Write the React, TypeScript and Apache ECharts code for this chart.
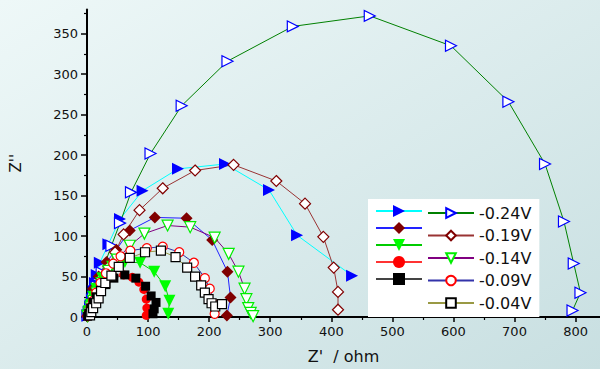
import React, { useEffect, useRef } from "react";
import * as echarts from "echarts";

// Nyquist data: [Z' (ohm), Z'' (ohm)]
const s024Filled: number[][] = [[1,2],[3,6],[5,13],[8,22],[11,32],[13,42],[16,52],[21,67],[35,90],[54,121],[91,156],[149,183],[226,189],[298,157],[344,101],[434,51]];
const s024Open: number[][] = [[1,2],[3,6],[6,14],[10,24],[16,38],[24,55],[40,88],[54,116],[72,154],[104,202],[155,261],[230,316],[337,359],[463,372],[596,335],[690,266],[750,189],[781,118],[797,66],[808,30],[795,8]];
const s019Filled: number[][] = [[1,2],[3,8],[6,18],[10,35],[19,50],[32,68],[48,83],[70,107],[111,123],[163,122],[205,95],[230,56],[235,24],[229,2]];
const s019Open: number[][] = [[1,1],[3,5],[6,12],[10,22],[16,35],[25,50],[35,62],[46,80],[60,102],[86,132],[124,159],[177,181],[240,188],[310,168],[357,140],[387,99],[404,61],[411,31],[411,9]];
const s014Filled: number[][] = [[1,2],[3,7],[6,15],[10,25],[15,35],[25,48],[41,62],[62,68],[87,67],[110,56],[128,38],[135,20],[133,4]];
const s014Open: number[][] = [[1,1],[3,5],[6,12],[10,20],[16,30],[24,42],[35,57],[49,71],[70,88],[94,103],[132,113],[169,111],[209,98],[232,78],[248,56],[258,35],[261,22],[264,11],[268,5],[272,1]];
const s009Filled: number[][] = [[1,1],[3,5],[6,12],[10,20],[15,28],[22,37],[31,44],[42,51],[60,52],[74,49],[85,43],[93,34],[97,22],[98,11],[97,2]];
const s009Open: number[][] = [[1,1],[3,5],[6,12],[10,20],[15,30],[22,42],[31,54],[43,66],[55,75],[71,82],[98,85],[124,87],[151,80],[175,67],[193,48],[201,35],[209,16],[209,4]];
const s004Filled: number[][] = [[1,1],[3,5],[6,11],[10,18],[15,25],[22,33],[31,40],[44,48],[62,52],[80,48],[96,38],[105,26],[113,18],[110,10],[108,4]];
const s004Open: number[][] = [[5,2],[7,6],[10,11],[15,17],[19,23],[23,32],[30,42],[40,51],[52,62],[70,73],[95,80],[121,82],[145,74],[164,61],[177,50],[187,39],[193,30],[199,22],[204,17],[210,13],[221,16]];

const labels = ["-0.24V", "-0.19V", "-0.14V", "-0.09V", "-0.04V"];
const xTicks = [0, 100, 200, 300, 400, 500, 600, 700, 800];
const yTicks = [0, 50, 100, 150, 200, 250, 300, 350];

const FONT = "DejaVu Sans";

export default function App() {
  const ref = useRef<HTMLDivElement>(null);
  useEffect(() => {
    if (!ref.current) return;
    const chart = echarts.init(ref.current, null, { renderer: "svg" });

    const mk = (
      name: string,
      data: number[][],
      lineColor: string,
      symbol: string,
      size: number,
      rotate: number,
      fill: string,
      border: string | null
    ) => ({
      type: "line",
      name,
      data,
      symbol,
      symbolSize: size,
      symbolRotate: rotate,
      showAllSymbol: true,
      lineStyle: { color: lineColor, width: 1 },
      itemStyle: border
        ? { color: fill, borderColor: border, borderWidth: 1.2 }
        : { color: fill, borderWidth: 0 },
      emphasis: { disabled: true },
    });

    const filledNames = labels.map((l) => l + " filled");
    const series = [
      mk(filledNames[0], s024Filled, "#00ffff", "triangle", 12, -90, "#0000ff", null),
      mk(labels[0], s024Open, "#008000", "triangle", 11, -90, "#ffffff", "#0000ff"),
      mk(filledNames[1], s019Filled, "#2222ff", "diamond", 12, 0, "#800000", null),
      mk(labels[1], s019Open, "#993333", "diamond", 11, 0, "#ffffff", "#800000"),
      mk(filledNames[2], s014Filled, "#00cc00", "triangle", 12, 180, "#00ff00", null),
      mk(labels[2], s014Open, "#800080", "triangle", 11, 180, "#ffffff", "#00ee00"),
      mk(filledNames[3], s009Filled, "#ff3333", "circle", 9, 0, "#ff0000", null),
      mk(labels[3], s009Open, "#3333aa", "circle", 9, 0, "#ffffff", "#ff0000"),
      mk(filledNames[4], s004Filled, "#444444", "rect", 9, 0, "#000000", null),
      mk(labels[4], s004Open, "#999944", "rect", 9, 0, "#ffffff", "#000000"),
    ];

    chart.setOption({
      animation: false,
      backgroundColor: new echarts.graphic.LinearGradient(0, 0, 1, 1, [
        { offset: 0, color: "#eef8f8" },
        { offset: 1, color: "#c8dfe1" },
      ]),
      grid: { left: 83.6, top: 9.4, width: 519, height: 311.6, containLabel: false },
      legend: [
        {
          data: filledNames,
          orient: "vertical",
          left: 375,
          top: 203.5,
          padding: 0,
          itemWidth: 46,
          itemHeight: 15,
          itemGap: 3.5,
          formatter: () => "",
          selectedMode: false,
          z: 6,
          textStyle: { fontSize: 1 },
        },
        {
          data: labels,
          orient: "vertical",
          left: 368,
          top: 199,
          padding: [6, 8, 6, 59],
          backgroundColor: "#ffffff",
          itemWidth: 46,
          itemHeight: 12,
          itemGap: 6.5,
          selectedMode: false,
          z: 5,
          textStyle: { fontFamily: FONT, fontSize: 16, color: "#111" },
        },
      ],
      xAxis: {
        type: "value",
        min: 0,
        max: 840,
        interval: 100,
        name: "Z'  / ohm",
        nameLocation: "middle",
        nameGap: 31,
        nameTextStyle: { fontFamily: FONT, fontSize: 16, color: "#111" },
        axisLine: { show: true, onZero: false, lineStyle: { color: "#000", width: 2 } },
        axisTick: { show: true, length: 5, lineStyle: { color: "#000", width: 1.5 }, customValues: xTicks },
        minorTick: { show: true, splitNumber: 2, length: 3, lineStyle: { color: "#000", width: 1.2 } },
        axisLabel: {
          fontFamily: FONT,
          fontSize: 13,
          color: "#111",
          margin: 8,
          customValues: xTicks,
        },
        splitLine: { show: false },
      },
      yAxis: {
        type: "value",
        min: 0,
        max: 380,
        interval: 50,
        name: "Z''",
        nameLocation: "middle",
        nameGap: 64,
        nameRotate: 90,
        nameTextStyle: { fontFamily: FONT, fontSize: 15, color: "#111" },
        axisLine: { show: true, onZero: false, lineStyle: { color: "#000", width: 2 } },
        axisTick: { show: true, length: 6, lineStyle: { color: "#000", width: 1.5 }, customValues: yTicks },
        minorTick: { show: true, splitNumber: 2, length: 3, lineStyle: { color: "#000", width: 1.2 } },
        axisLabel: {
          fontFamily: FONT,
          fontSize: 13,
          color: "#111",
          margin: 9,
          customValues: yTicks,
        },
        splitLine: { show: false },
      },
      series,
    });
    return () => chart.dispose();
  }, []);
  return (
    <div
      ref={ref}
      style={{ position: "fixed", left: 0, top: 0, width: 600, height: 369 }}
    />
  );
}
